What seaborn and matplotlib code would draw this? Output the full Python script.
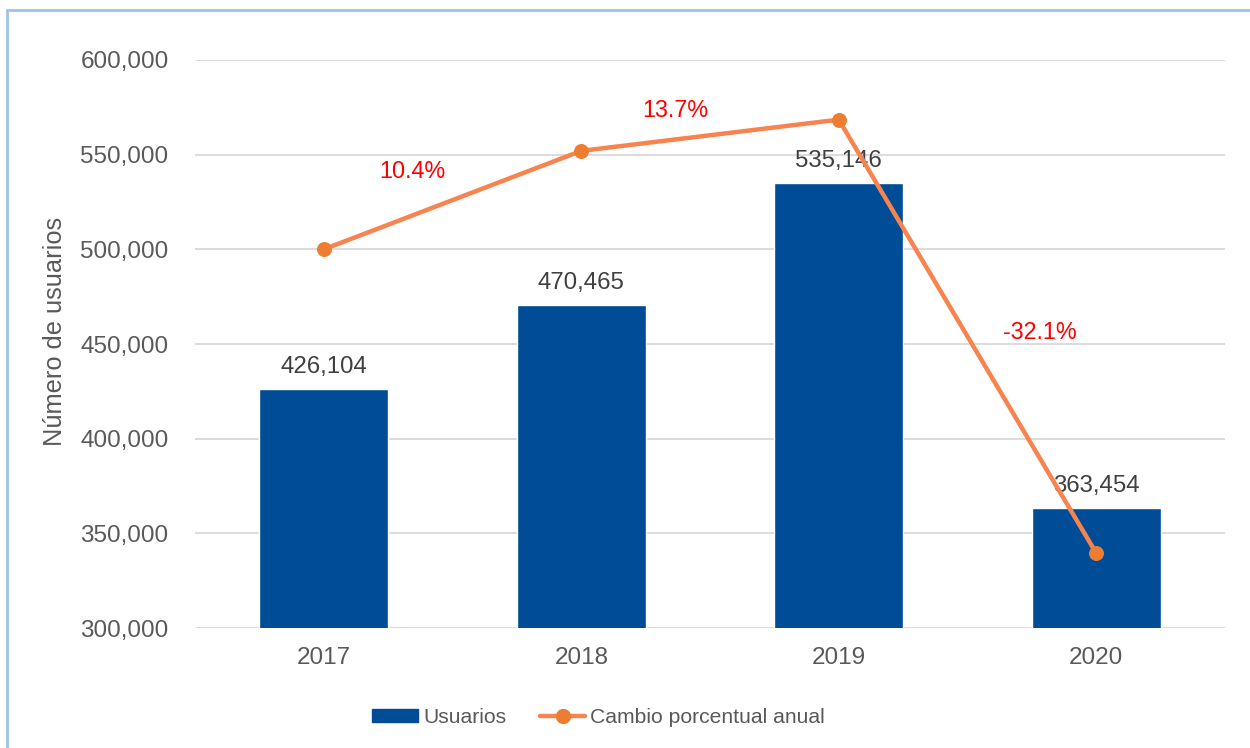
"""
Usuarios por año y cambio porcentual anual.
"""

import numpy as np
import matplotlib.pyplot as plt
import seaborn as sns
from matplotlib.lines import Line2D
from matplotlib.patches import Patch
from matplotlib.ticker import FuncFormatter

# Data
years = ['2017', '2018', '2019', '2020']
usuarios = [426104, 470465, 535146, 363454]
cambio_pct = [0.0, 10.4, 13.7, -32.1]
pct_labels = ['', '10.4%', '13.7%', '-32.1%']

BAR_COLOR = '#004C97'
LINE_COLOR = '#F7834F'
MARKER_COLOR = '#ED7D31'
TEXT_COLOR = '#595959'

sns.set_style('white')
plt.rcParams['font.family'] = ['Liberation Sans', 'DejaVu Sans']

fig = plt.figure(figsize=(12.5, 7.48), dpi=100)
ax = fig.add_axes([0.156, 0.1604, 0.824, 0.7594])

sns.barplot(x=years, y=usuarios, color=BAR_COLOR, width=0.5, saturation=1, ax=ax, zorder=2)
ax.set_xlim(-0.5, len(years) - 0.5)
ax.set_ylim(300000, 600000)
ax.set_yticks(np.arange(300000, 600001, 50000))
ax.yaxis.set_major_formatter(FuncFormatter(lambda v, p: f'{int(v):,}'))
ax.grid(axis='y', color='#D9D9D9', linewidth=1.3, zorder=0)
ax.set_axisbelow(True)
for s in ax.spines.values():
    s.set_visible(False)
ax.tick_params(axis='both', length=0, labelsize=17.5, colors=TEXT_COLOR)
ax.tick_params(axis='x', pad=14)
ax.tick_params(axis='y', pad=19)
ax.set_xlabel('')
ax.set_ylabel('Número de usuarios', fontsize=18.3, color=TEXT_COLOR)
ax.yaxis.set_label_coords(-0.124, 0.523)
ax.bar_label(ax.containers[0], labels=[f'{v:,}' for v in usuarios],
             padding=8, fontsize=17.3, color='#404040')

# secondary (hidden) axis for the percentage change line
ax2 = ax.twinx()
sns.lineplot(x=np.arange(len(years)), y=cambio_pct, ax=ax2, color=LINE_COLOR,
             linewidth=3.2, marker='o', markersize=10, markerfacecolor=MARKER_COLOR,
             markeredgecolor=MARKER_COLOR, zorder=3)
ax2.set_xlim(-0.5, len(years) - 0.5)
ax2.set_ylim(-40, 20)
ax2.set_yticks([])
ax2.set_ylabel('')
for s in ax2.spines.values():
    s.set_visible(False)

label_offsets = [(0, 0), (-169, -21), (-163, 9), (-56, 221)]
for i, txt in enumerate(pct_labels):
    if txt:
        ax2.annotate(txt, (i, cambio_pct[i]), xytext=label_offsets[i],
                     textcoords='offset pixels', ha='center', va='center',
                     fontsize=16.8, color='#FF0000')

# legend
handles = [
    Patch(facecolor=BAR_COLOR, edgecolor=BAR_COLOR, label='Usuarios'),
    Line2D([0], [0], color=LINE_COLOR, linewidth=3.2, marker='o', markersize=10,
           markerfacecolor=MARKER_COLOR, markeredgecolor=MARKER_COLOR,
           label='Cambio porcentual anual'),
]
leg = fig.legend(handles=handles, loc='center', bbox_to_anchor=(0.479, 0.041), ncol=2,
                 frameon=False, fontsize=15.2, handlelength=2.15, handleheight=0.55,
                 handletextpad=0.25, columnspacing=1.6)
for t in leg.get_texts():
    t.set_color(TEXT_COLOR)

# chart border (left and top visible)
fig.add_artist(Line2D([7 / 1250, 7 / 1250], [0, 1 - 10 / 748], color='#9DC3E6',
                      linewidth=2, transform=fig.transFigure))
fig.add_artist(Line2D([7 / 1250, 1], [1 - 10 / 748, 1 - 10 / 748], color='#9DC3E6',
                      linewidth=2, transform=fig.transFigure))

fig.savefig('out.png', dpi=100)
